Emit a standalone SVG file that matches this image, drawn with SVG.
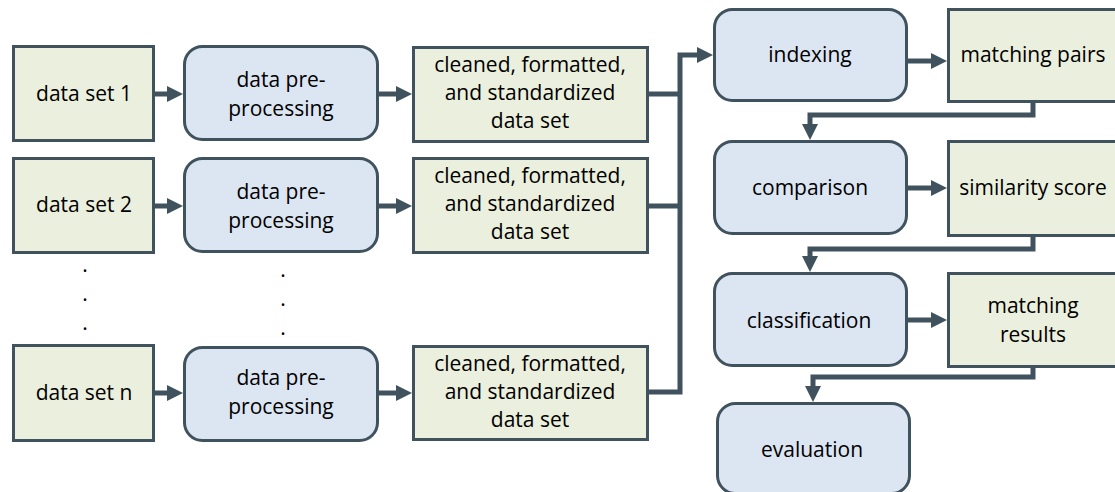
<svg xmlns="http://www.w3.org/2000/svg" width="1115" height="492" viewBox="0 0 1115 492">
<style>
.g{fill:#ebefdd;stroke:#3f525e;stroke-width:3}
.b{fill:#dce6f2;stroke:#3f525e;stroke-width:3}
.t{font-family:"Open Sans","Noto Sans",sans-serif;font-size:21px;fill:#000;text-anchor:middle}
.c{fill:none;stroke:#3f525e;stroke-width:5}
</style>
<defs>
<marker id="ah" markerWidth="16" markerHeight="16" refX="0" refY="8" orient="auto" markerUnits="userSpaceOnUse" viewBox="0 0 16 16"><path d="M0,0 L16,8 L0,16 z" fill="#3f525e"/></marker>
</defs>
<rect width="1115" height="492" fill="#fff"/>
<g id="connectors">
<path class="c" d="M155,94 H167" marker-end="url(#ah)"/>
<path class="c" d="M155,206 H167" marker-end="url(#ah)"/>
<path class="c" d="M155,393 H167" marker-end="url(#ah)"/>
<path class="c" d="M379,94 H396" marker-end="url(#ah)"/>
<path class="c" d="M379,206 H396" marker-end="url(#ah)"/>
<path class="c" d="M379,393 H396" marker-end="url(#ah)"/>
<path class="c" d="M649,94 H680"/>
<path class="c" d="M649,206 H680"/>
<path class="c" d="M649,392 H680 V55 H697" marker-end="url(#ah)"/>
<path class="c" d="M908,61 H931" marker-end="url(#ah)"/>
<path class="c" d="M908,188 H931" marker-end="url(#ah)"/>
<path class="c" d="M908,320 H931" marker-end="url(#ah)"/>
<path class="c" d="M1033,103 V115 H810 V124" marker-end="url(#ah)"/>
<path class="c" d="M1033,237 V249 H810 V256" marker-end="url(#ah)"/>
<path class="c" d="M1033,367 V377 H813 V386" marker-end="url(#ah)"/>
</g>
<g id="ds1"><rect class="g" x="13.5" y="46.5" width="140" height="94"/><text class="t" x="84" y="101">data set 1</text></g>
<g id="ds2"><rect class="g" x="13.5" y="158.5" width="140" height="94"/><text class="t" x="84" y="212">data set 2</text></g>
<g id="dsn"><rect class="g" x="13.5" y="345.5" width="140" height="95"/><text class="t" x="84" y="400">data set n</text></g>
<g id="dots1"><text class="t" x="85" y="272">.</text><text class="t" x="85" y="301">.</text><text class="t" x="85" y="330">.</text></g>
<g id="dots2"><text class="t" x="283" y="277">.</text><text class="t" x="283" y="306">.</text><text class="t" x="283" y="335">.</text></g>
<g id="pp1"><rect class="b" x="184.5" y="46.5" width="193" height="93" rx="18"/><text class="t" x="281" y="87">data pre-</text><text class="t" x="281" y="116">processing</text></g>
<g id="pp2"><rect class="b" x="184.5" y="158.5" width="193" height="93" rx="18"/><text class="t" x="281" y="199">data pre-</text><text class="t" x="281" y="228">processing</text></g>
<g id="ppn"><rect class="b" x="184.5" y="347.5" width="193" height="93" rx="18"/><text class="t" x="281" y="385">data pre-</text><text class="t" x="281" y="414">processing</text></g>
<g id="cl1"><rect class="g" x="413.5" y="47.5" width="234" height="94"/><text class="t" x="530" y="72">cleaned, formatted,</text><text class="t" x="530" y="100">and standardized</text><text class="t" x="530" y="128">data set</text></g>
<g id="cl2"><rect class="g" x="413.5" y="158.5" width="234" height="94"/><text class="t" x="530" y="183">cleaned, formatted,</text><text class="t" x="530" y="211">and standardized</text><text class="t" x="530" y="239">data set</text></g>
<g id="cln"><rect class="g" x="413.5" y="346.5" width="234" height="93"/><text class="t" x="530" y="371">cleaned, formatted,</text><text class="t" x="530" y="399">and standardized</text><text class="t" x="530" y="427">data set</text></g>
<g id="indexing"><rect class="b" x="714.5" y="9.5" width="192" height="91" rx="18"/><text class="t" x="810" y="62">indexing</text></g>
<g id="pairs"><rect class="g" x="948.5" y="9.5" width="172" height="92"/><text class="t" x="1033" y="62">matching pairs</text></g>
<g id="comparison"><rect class="b" x="714.5" y="141.5" width="192" height="92" rx="18"/><text class="t" x="810" y="195">comparison</text></g>
<g id="score"><rect class="g" x="948.5" y="141.5" width="172" height="94"/><text class="t" x="1033" y="195">similarity score</text></g>
<g id="classification"><rect class="b" x="714.5" y="273.5" width="192" height="92" rx="18"/><text class="t" x="809" y="328">classification</text></g>
<g id="results"><rect class="g" x="948.5" y="273.5" width="172" height="93"/><text class="t" x="1033" y="313">matching</text><text class="t" x="1033" y="342">results</text></g>
<g id="evaluation"><rect class="b" x="717.5" y="403.5" width="192" height="90" rx="18"/><text class="t" x="812" y="457">evaluation</text></g>
</svg>
